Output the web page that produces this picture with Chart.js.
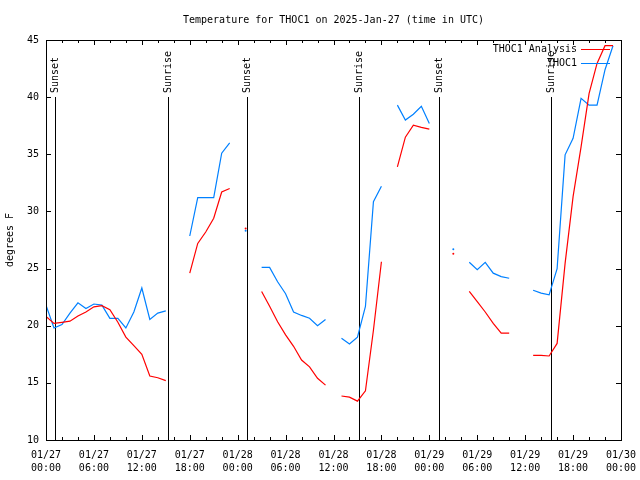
<!DOCTYPE html>
<html lang="en">
<head>
  <meta charset="UTF-8">
  <title>Temperature for THOC1 on 2025-Jan-27</title>
  <script src="https://cdn.jsdelivr.net/npm/chart.js"></script>
  <style>
    body { margin: 0; background: #fff; }
    canvas { display: block; }
  </style>
</head>
<body>
  <canvas id="tempChart" width="640" height="480"></canvas>

  <script>
    // hours since 2025-01-27 00:00 UTC
    const hours = [0, 1, 2, 3, 4, 5, 6, 7, 8, 9, 10, 11, 12, 13, 14, 15, 16, 17, 18, 19, 20, 21, 22, 23,
      24, 25, 26, 27, 28, 29, 30, 31, 32, 33, 34, 35, 36, 37, 38, 39, 40, 41, 42, 43, 44, 45, 46, 47,
      48, 49, 50, 51, 52, 53, 54, 55, 56, 57, 58, 59, 60, 61, 62, 63, 64, 65, 66, 67, 68, 69, 70, 71];

    const analysisTemps = [20.8, 20.2, 20.3, 20.4, 20.85, 21.2, 21.65, 21.75, 21.4, 20.3, 19.0, 18.25,
      17.5, 15.6, 15.45, 15.2, null, null, 24.6, 27.2, 28.2, 29.4, 31.7, 32.0,
      null, 28.5, null, 23.0, 21.7, 20.35, 19.2, 18.2, 17.0, 16.4, 15.4, 14.8,
      null, 13.85, 13.75, 13.4, 14.3, 19.6, 25.6, null, 33.9, 36.5, 37.55, 37.35,
      37.2, null, null, 26.3, null, 23.0, 22.1, 21.2, 20.2, 19.35, 19.35, null,
      null, 17.4, 17.4, 17.35, 18.45, 25.45, 31.3, 35.65, 40.3, 42.95, 44.5, 44.5];

    const stationTemps = [21.8, 19.8, 20.1, 21.1, 22.0, 21.5, 21.9, 21.8, 20.65, 20.65, 19.8, 21.2,
      23.3, 20.55, 21.1, 21.3, null, null, 27.85, 31.2, 31.2, 31.2, 35.1, 36.0,
      null, 28.3, null, 25.1, 25.1, 23.85, 22.8, 21.2, 20.9, 20.65, 20.0, 20.55,
      null, 18.9, 18.4, 19.0, 21.7, 30.85, 32.2, null, 39.3, 38.0, 38.5, 39.2,
      37.7, null, null, 26.7, null, 25.55, 24.9, 25.55, 24.6, 24.3, 24.15, null,
      null, 23.1, 22.85, 22.7, 25.0, 34.95, 36.4, 39.9, 39.3, 39.3, 42.4, 44.5];

    const xTickLabels = [['01/27', '00:00'], ['01/27', '06:00'], ['01/27', '12:00'], ['01/27', '18:00'],
      ['01/28', '00:00'], ['01/28', '06:00'], ['01/28', '12:00'], ['01/28', '18:00'],
      ['01/29', '00:00'], ['01/29', '06:00'], ['01/29', '12:00'], ['01/29', '18:00'], ['01/30', '00:00']];

    const sunHours = [1.1, 15.3, 25.2, 39.2, 49.2, 63.25];
    const sunLabels = ['Sunset', 'Sunrise', 'Sunset', 'Sunrise', 'Sunset', 'Sunrise'];

    const seriesNames = ['THOC1 Analysis', 'THOC1'];
    const seriesColors = ['#ff0000', '#0080ff'];

    const monoFont = '"DejaVu Sans Mono", "Liberation Mono", monospace';

    // lone points between gaps would be invisible as lines, give them a dot
    function loneRadius(c) {
      const d = c.dataset.data;
      const i = c.dataIndex;
      if (d[i] == null || d[i].y == null) return 0;
      const prev = i > 0 ? d[i - 1].y : null;
      const next = i < d.length - 1 ? d[i + 1].y : null;
      return (prev == null && next == null) ? 1 : 0;
    }

    // gnuplot-ish frame: box, inward ticks, sun lines, title, legend
    const gnuFrame = {
      id: 'gnuFrame',
      beforeDatasetsDraw(chart) {
        const { ctx, chartArea: a, scales: { x } } = chart;
        ctx.save();
        ctx.strokeStyle = '#000';
        ctx.fillStyle = '#000';
        ctx.lineWidth = 1;
        ctx.font = '10px ' + monoFont;
        sunHours.forEach((h, i) => {
          const px = Math.round(x.getPixelForValue(h)) + 0.5;
          ctx.beginPath();
          ctx.moveTo(px, a.top + 57);
          ctx.lineTo(px, a.bottom);
          ctx.stroke();
          ctx.save();
          ctx.translate(px, a.top + 53);
          ctx.rotate(-Math.PI / 2);
          ctx.textAlign = 'left';
          ctx.textBaseline = 'middle';
          ctx.fillText(sunLabels[i], 0, 0);
          ctx.restore();
        });
        ctx.restore();
      },
      afterDatasetsDraw(chart) {
        const { ctx, chartArea: a, scales: { x, y } } = chart;
        ctx.save();
        ctx.strokeStyle = '#000';
        ctx.lineWidth = 1;
        ctx.strokeRect(a.left + 0.5, a.top + 0.5, a.right - a.left, a.bottom - a.top);

        ctx.beginPath();
        for (let h = 0; h <= 72; h += 2) {
          const px = Math.round(x.getPixelForValue(h)) + 0.5;
          const len = h % 6 === 0 ? 5 : 3;
          ctx.moveTo(px, a.bottom);
          ctx.lineTo(px, a.bottom - len);
          ctx.moveTo(px, a.top);
          ctx.lineTo(px, a.top + len);
        }
        for (let v = 10; v <= 45; v += 5) {
          const py = Math.round(y.getPixelForValue(v)) + 0.5;
          ctx.moveTo(a.left, py);
          ctx.lineTo(a.left + 5, py);
          ctx.moveTo(a.right, py);
          ctx.lineTo(a.right - 5, py);
        }
        ctx.stroke();

        // legend
        ctx.font = '10px ' + monoFont;
        ctx.textAlign = 'right';
        ctx.textBaseline = 'middle';
        ctx.fillStyle = '#000';
        seriesNames.forEach((name, i) => {
          const ly = a.top + 9 + i * 14;
          ctx.fillText(name, a.right - 44, ly);
          ctx.strokeStyle = seriesColors[i];
          ctx.beginPath();
          ctx.moveTo(a.right - 40, ly + 0.5);
          ctx.lineTo(a.right - 11, ly + 0.5);
          ctx.stroke();
        });

        // title and y label
        ctx.fillStyle = '#000';
        ctx.textAlign = 'center';
        ctx.fillText('Temperature for THOC1 on 2025-Jan-27 (time in UTC)', (a.left + a.right) / 2, 20);
        ctx.save();
        ctx.translate(10, (a.top + a.bottom) / 2);
        ctx.rotate(-Math.PI / 2);
        ctx.fillText('degrees F', 0, 0);
        ctx.restore();
        ctx.restore();
      }
    };

    const ctx = document.getElementById('tempChart').getContext('2d');
    const tempChart = new Chart(ctx, {
      type: 'line',
      data: {
        datasets: [{
          label: seriesNames[0],
          data: hours.map((h, i) => ({ x: h, y: analysisTemps[i] })),
          borderColor: seriesColors[0],
          backgroundColor: seriesColors[0],
          borderWidth: 1.2,
          pointRadius: loneRadius,
          pointBorderWidth: 0,
          spanGaps: false,
          tension: 0
        }, {
          label: seriesNames[1],
          data: hours.map((h, i) => ({ x: h, y: stationTemps[i] })),
          borderColor: seriesColors[1],
          backgroundColor: seriesColors[1],
          borderWidth: 1.2,
          pointRadius: loneRadius,
          pointBorderWidth: 0,
          spanGaps: false,
          tension: 0
        }]
      },
      options: {
        responsive: false,
        animation: false,
        layout: { padding: { left: 0, right: 19, top: 40, bottom: 0 } },
        plugins: {
          legend: { display: false },
          title: { display: false },
          tooltip: { enabled: false }
        },
        scales: {
          x: {
            type: 'linear',
            min: 0,
            max: 72,
            afterFit: (scale) => {
              scale.height = 40;
              scale.paddingLeft = 0;
              scale.paddingRight = 0;
            },
            grid: { display: false, drawTicks: false },
            border: { display: false },
            ticks: {
              stepSize: 6,
              autoSkip: false,
              maxRotation: 0,
              padding: 9,
              color: '#000',
              font: { family: monoFont, size: 10, lineHeight: 1.3 },
              callback: (v, i) => xTickLabels[i]
            }
          },
          y: {
            min: 10,
            max: 45,
            afterFit: (scale) => {
              scale.width = 46;
              scale.paddingTop = 0;
              scale.paddingBottom = 0;
            },
            grid: { display: false, drawTicks: false },
            border: { display: false },
            ticks: {
              stepSize: 5,
              padding: 7,
              color: '#000',
              font: { family: monoFont, size: 10 }
            }
          }
        }
      },
      plugins: [gnuFrame]
    });
  </script>
</body>
</html>
